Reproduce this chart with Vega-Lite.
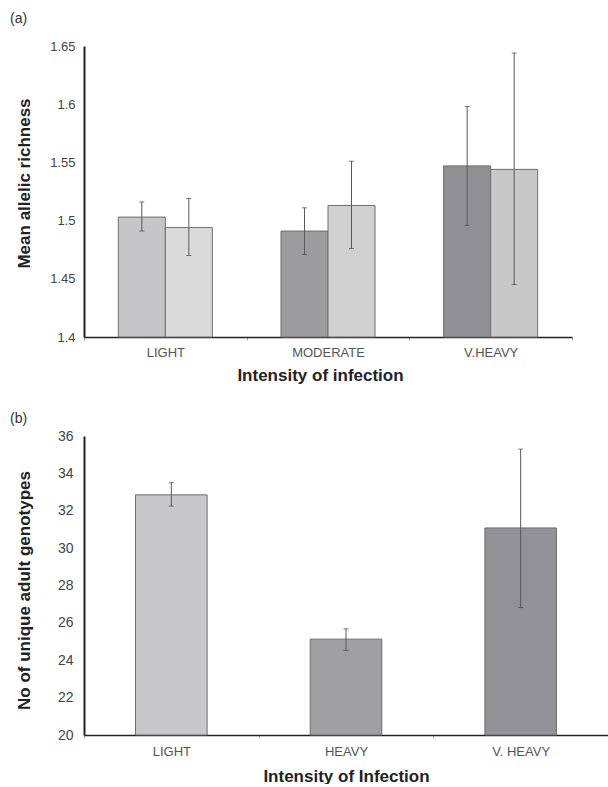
{
  "$schema": "https://vega.github.io/schema/vega-lite/v6.json",
  "padding": {"left": 10, "top": 12, "right": 0, "bottom": 0},
  "spacing": 29,
  "resolve": {"scale": {"color": "independent"}},
  "config": {
    "font": "Liberation Sans",
    "view": {"stroke": null},
    "axis": {"grid": false, "labelFont": "Liberation Sans", "titleFont": "Liberation Sans", "domainColor": "#222", "labelColor": "#444", "titleColor": "#222"},
    "axisQuantitative": {"labelOverlap": false},
    "title": {"font": "Liberation Sans", "fontWeight": "normal", "fontSize": 14, "anchor": "start", "color": "#333", "frame": "group"}
  },
  "vconcat": [
    {
      "title": {"text": "(a)", "dx": -74, "offset": 14},
      "width": 488,
      "height": 291,
      "data": {"values": [
        {"intensity": "LIGHT", "series": "1", "mean": 1.503, "lo": 1.491, "hi": 1.516, "key": "LIGHT-1"},
        {"intensity": "LIGHT", "series": "2", "mean": 1.494, "lo": 1.470, "hi": 1.519, "key": "LIGHT-2"},
        {"intensity": "MODERATE", "series": "1", "mean": 1.491, "lo": 1.471, "hi": 1.511, "key": "MODERATE-1"},
        {"intensity": "MODERATE", "series": "2", "mean": 1.513, "lo": 1.476, "hi": 1.551, "key": "MODERATE-2"},
        {"intensity": "V.HEAVY", "series": "1", "mean": 1.547, "lo": 1.496, "hi": 1.598, "key": "V.HEAVY-1"},
        {"intensity": "V.HEAVY", "series": "2", "mean": 1.544, "lo": 1.445, "hi": 1.644, "key": "V.HEAVY-2"}
      ]},
      "encoding": {
        "x": {
          "field": "intensity", "type": "nominal", "sort": ["LIGHT", "MODERATE", "V.HEAVY"],
          "scale": {"paddingInner": 0, "paddingOuter": 0},
          "axis": {"title": "Intensity of infection", "titleFontSize": 17, "titleFontWeight": "bold", "titleX": 236, "labelFontSize": 13, "labelAngle": 0, "labelColor": "#555", "tickBand": "extent", "tickSize": 3, "tickColor": "#aaa", "labelPadding": 6, "titlePadding": 8, "domainWidth": 1.5}
        },
        "xOffset": {"field": "series", "type": "nominal", "scale": {"paddingOuter": 0.73, "paddingInner": 0}}
      },
      "layer": [
        {
          "mark": {"type": "bar", "stroke": "#6e6e6e", "strokeWidth": 1},
          "encoding": {
            "y": {
              "field": "mean", "type": "quantitative",
              "scale": {"domain": [1.4, 1.65], "zero": false, "nice": false},
              "axis": {"title": "Mean allelic richness", "values": [1.4, 1.45, 1.5, 1.55, 1.6, 1.65], "format": "~g", "labelOverlap": false, "tickSize": 0, "labelPadding": 9, "labelFontSize": 13, "titleFontSize": 17, "titleFontWeight": "bold", "titleX": -51, "titleY": 137, "domainWidth": 2}
            },
            "y2": {"datum": 1.4},
            "color": {"field": "key", "type": "nominal", "legend": null,
              "scale": {"domain": ["LIGHT-1", "LIGHT-2", "MODERATE-1", "MODERATE-2", "V.HEAVY-1", "V.HEAVY-2"],
                        "range": ["#c6c6c8", "#dadadb", "#9c9c9f", "#d0d0d1", "#909094", "#c8c8c9"]}}
          }
        },
        {
          "mark": {"type": "rule", "color": "#5a5a5a", "strokeWidth": 1},
          "encoding": {"y": {"field": "lo", "type": "quantitative"}, "y2": {"field": "hi"}}
        },
        {
          "mark": {"type": "tick", "size": 5, "thickness": 1, "color": "#444"},
          "encoding": {"y": {"field": "lo", "type": "quantitative"}}
        },
        {
          "mark": {"type": "tick", "size": 5, "thickness": 1, "color": "#444"},
          "encoding": {"y": {"field": "hi", "type": "quantitative"}}
        }
      ]
    },
    {
      "title": {"text": "(b)", "dx": -74, "offset": 3},
      "width": 524,
      "height": 299,
      "data": {"values": [
        {"intensity": "LIGHT", "mean": 32.85, "lo": 32.25, "hi": 33.5},
        {"intensity": "HEAVY", "mean": 25.13, "lo": 24.53, "hi": 25.68},
        {"intensity": "V. HEAVY", "mean": 31.08, "lo": 26.82, "hi": 35.3}
      ]},
      "encoding": {
        "x": {
          "field": "intensity", "type": "nominal", "sort": ["LIGHT", "HEAVY", "V. HEAVY"],
          "scale": {"paddingInner": 0, "paddingOuter": 0},
          "axis": {"title": "Intensity of Infection", "titleFontSize": 17, "titleFontWeight": "bold", "labelFontSize": 13, "labelAngle": 0, "labelColor": "#555", "tickBand": "extent", "tickSize": 3, "tickColor": "#aaa", "labelPadding": 7, "titlePadding": 10, "domainWidth": 1.5}
        }
      },
      "layer": [
        {
          "mark": {"type": "bar", "stroke": "#6e6e6e", "strokeWidth": 1, "width": {"band": 0.41}},
          "encoding": {
            "y": {
              "field": "mean", "type": "quantitative",
              "scale": {"domain": [20, 36], "zero": false, "nice": false},
              "axis": {"title": "No of unique adult genotypes", "values": [20, 22, 24, 26, 28, 30, 32, 34, 36], "tickCount": 9, "labelOverlap": false, "tickSize": 0, "labelPadding": 11, "labelFontSize": 14, "titleFontSize": 17, "titleFontWeight": "bold", "titleX": -51, "titleY": 154, "domainWidth": 2}
            },
            "y2": {"datum": 20},
            "color": {"field": "intensity", "type": "nominal", "legend": null,
              "scale": {"domain": ["LIGHT", "HEAVY", "V. HEAVY"], "range": ["#c8c8ca", "#a0a0a3", "#929296"]}}
          }
        },
        {
          "mark": {"type": "rule", "color": "#5a5a5a", "strokeWidth": 1},
          "encoding": {"y": {"field": "lo", "type": "quantitative"}, "y2": {"field": "hi"}}
        },
        {
          "mark": {"type": "tick", "size": 5, "thickness": 1, "color": "#444"},
          "encoding": {"y": {"field": "lo", "type": "quantitative"}}
        },
        {
          "mark": {"type": "tick", "size": 5, "thickness": 1, "color": "#444"},
          "encoding": {"y": {"field": "hi", "type": "quantitative"}}
        }
      ]
    }
  ]
}
